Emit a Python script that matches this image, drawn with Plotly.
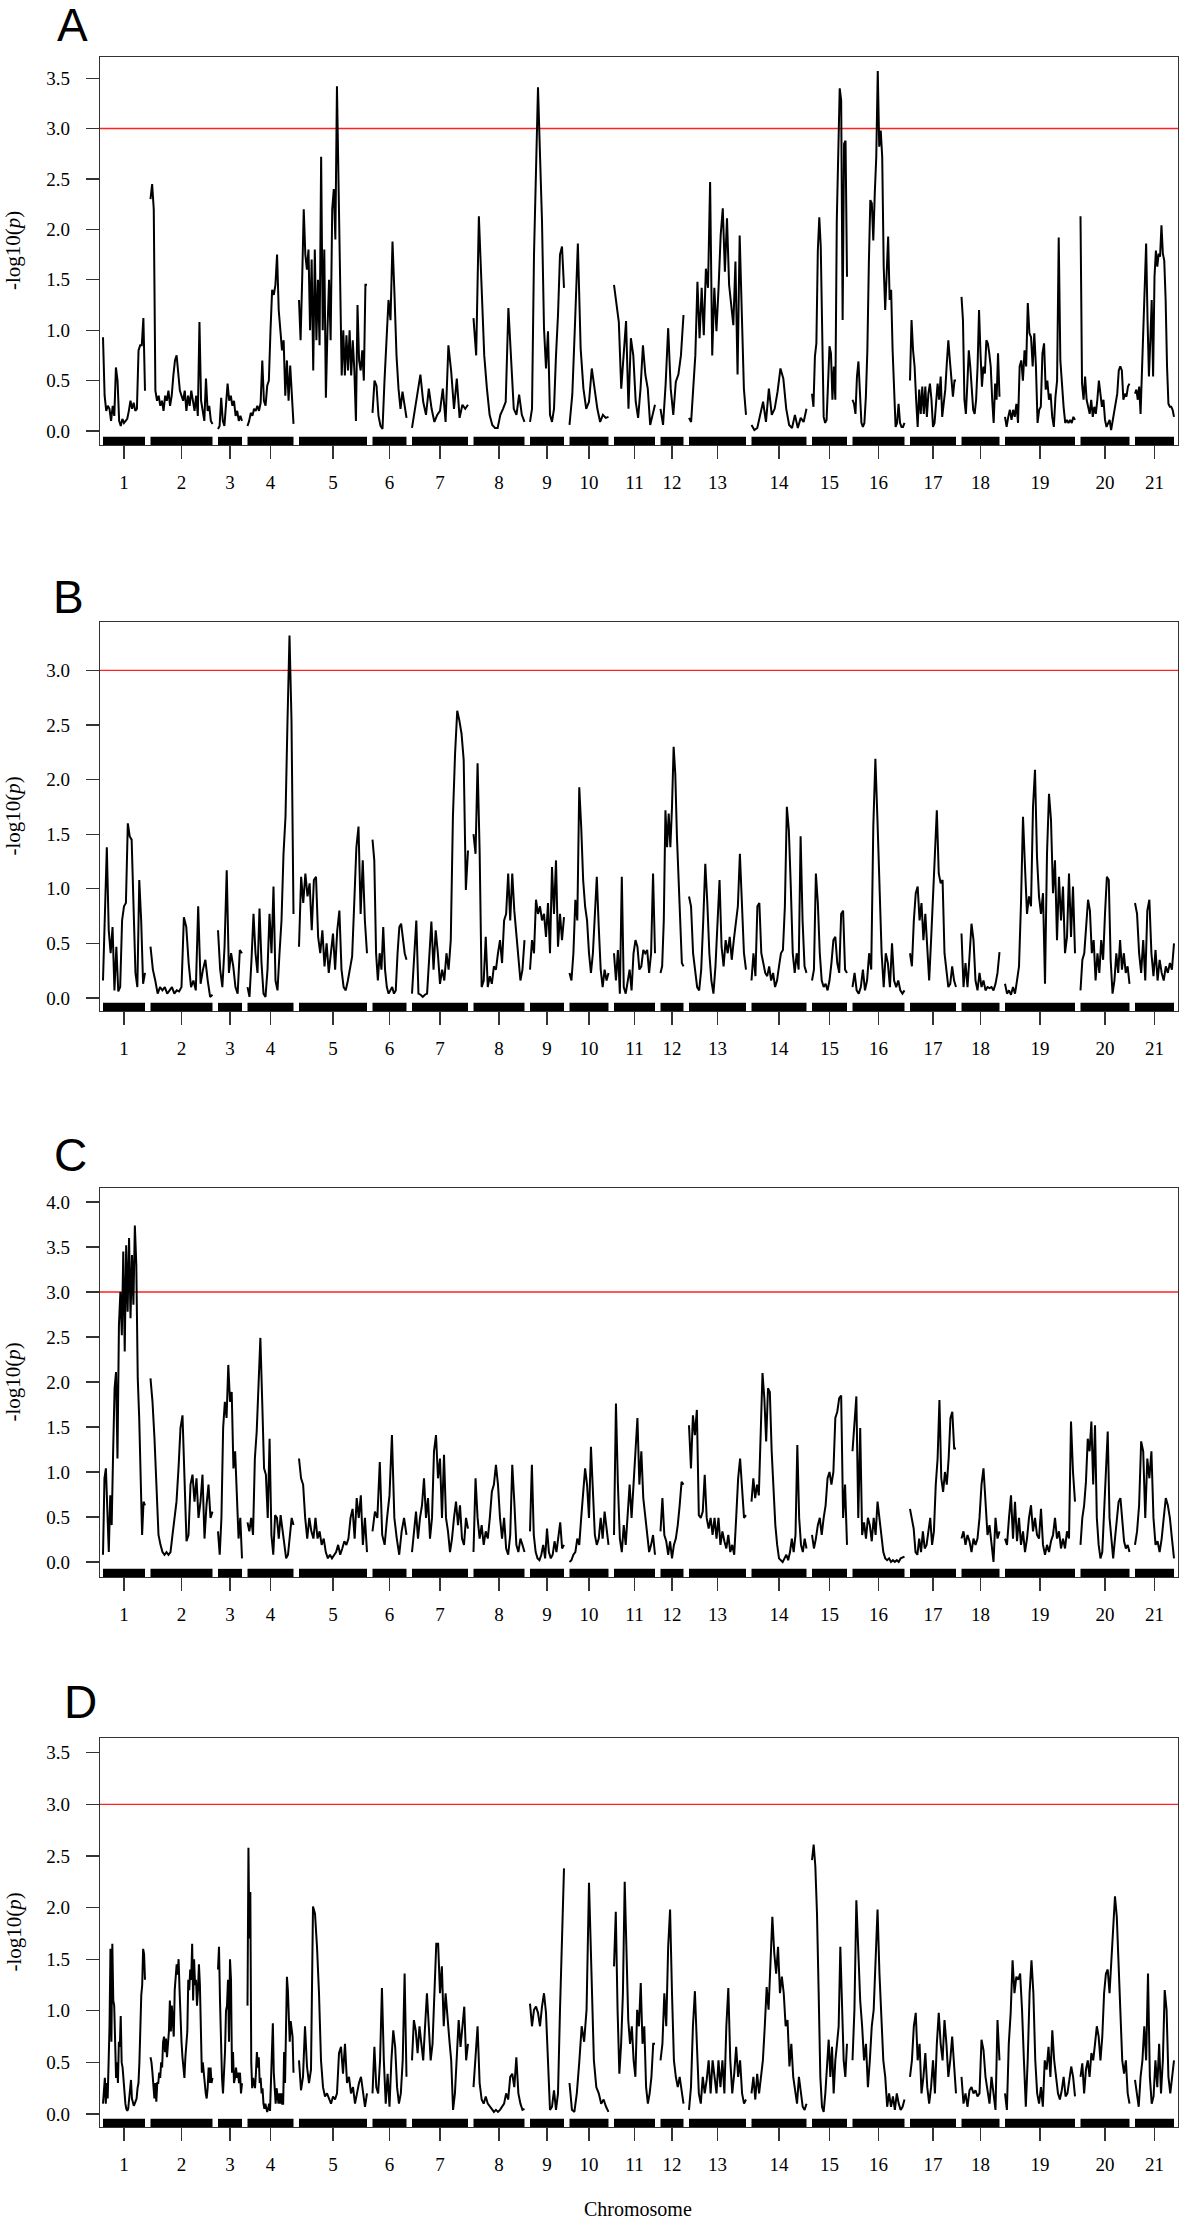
import plotly.graph_objects as go

# ---------------- data ----------------
chrom_names = [str(i) for i in range(1, 22)]
chrom_len = [42, 62, 24, 46, 68, 34, 56, 51, 34, 39, 41, 23, 57, 55, 35, 52, 46, 38, 70, 49, 39]
threshold = 3.0
panel_labels = ["A", "B", "C", "D"]

lod_A = [
    [0.93, 0.35, 0.2, 0.25, 0.22, 0.1, 0.25, 0.15, 0.63, 0.5, 0.1, 0.05, 0.12, 0.08, 0.1, 0.12, 0.2, 0.3, 0.22, 0.28, 0.2, 0.22, 0.8, 0.85, 0.85, 1.12, 0.4],
    [2.3, 2.45, 2.2, 0.4, 0.3, 0.35, 0.25, 0.3, 0.2, 0.35, 0.3, 0.4, 0.25, 0.35, 0.55, 0.7, 0.75, 0.6, 0.4, 0.35, 0.3, 0.4, 0.2, 0.35, 0.25, 0.4, 0.3, 0.2, 0.35, 0.15, 1.08, 0.3, 0.2, 0.1, 0.52, 0.2, 0.25, 0.1, 0.07],
    [0.02, 0.05, 0.33, 0.1, 0.05, 0.25, 0.47, 0.3, 0.35, 0.25, 0.3, 0.15, 0.2, 0.1, 0.15, 0.1],
    [0.05, 0.1, 0.18, 0.15, 0.22, 0.2, 0.25, 0.2, 0.28, 0.7, 0.3, 0.25, 0.45, 0.5, 1.0, 1.4, 1.35, 1.45, 1.75, 1.2, 1.0, 0.8, 0.9, 0.35, 0.7, 0.3, 0.65, 0.3, 0.07],
    [1.3, 0.9, 1.5, 2.2, 1.75, 1.6, 1.8, 1.0, 1.7, 0.6, 1.8, 0.9, 1.5, 0.85, 2.72, 1.0, 1.8, 0.33, 1.0, 1.5, 0.9, 2.2, 2.4, 1.9, 3.42, 2.3, 1.6, 0.55, 1.0, 0.55, 0.95, 0.6, 1.0, 0.55, 0.9, 0.6, 0.1, 1.25, 0.7, 0.6, 0.8, 0.5, 1.45, 1.45],
    [0.18, 0.5, 0.45, 0.15, 0.05, 0.02, 0.5, 0.85, 1.3, 1.1, 1.88, 1.35, 0.75, 0.42, 0.22, 0.39, 0.26, 0.13],
    [0.03, 0.22, 0.42, 0.56, 0.29, 0.16, 0.42, 0.22, 0.09, 0.16, 0.2, 0.42, 0.09, 0.85, 0.59, 0.22, 0.52, 0.13, 0.26, 0.22, 0.26],
    [1.12, 0.75, 2.13, 1.38, 0.75, 0.42, 0.16, 0.06, 0.03, 0.03, 0.16, 0.22, 0.29, 1.22, 0.75, 0.22, 0.16, 0.36, 0.16, 0.09],
    [0.09, 0.22, 1.75, 2.67, 3.41, 2.74, 2.08, 1.02, 0.62, 0.99, 0.16, 0.09, 0.22, 0.75, 1.15, 1.75, 1.83, 1.42],
    [0.06, 0.36, 1.08, 1.86, 0.82, 0.42, 0.22, 0.29, 0.62, 0.42, 0.22, 0.09, 0.16, 0.13, 0.14],
    [1.45, 1.28, 1.08, 0.42, 0.75, 1.09, 0.22, 0.92, 0.75, 0.29, 0.13, 0.42, 0.85, 0.56, 0.42, 0.06, 0.16, 0.26],
    [0.22, 0.06, 0.46, 1.02, 0.42, 0.16, 0.49, 0.56, 0.75, 1.15],
    [0.13, 0.09, 0.42, 0.75, 1.48, 0.92, 1.42, 0.95, 1.61, 1.42, 2.47, 0.75, 1.42, 0.99, 1.42, 1.94, 2.21, 1.58, 2.11, 1.45, 1.25, 1.05, 1.68, 0.56, 1.94, 1.02, 0.42, 0.16],
    [0.06, 0.01, 0.03, 0.16, 0.29, 0.09, 0.42, 0.16, 0.22, 0.39, 0.62, 0.52, 0.22, 0.06, 0.03, 0.16, 0.03, 0.13, 0.09, 0.22],
    [0.37, 0.24, 0.74, 0.87, 1.79, 2.12, 1.83, 0.97, 0.14, 0.08, 0.11, 0.47, 0.84, 0.77, 0.31, 0.64, 0.31, 2.09, 2.72, 3.4, 3.28, 1.1, 2.85, 2.88, 1.53],
    [0.31, 0.27, 0.17, 0.54, 0.69, 0.34, 0.08, 0.04, 0.08, 0.34, 0.8, 1.66, 2.29, 2.26, 1.89, 2.36, 2.72, 3.57, 2.82, 2.98, 2.72, 1.63, 1.2, 1.56, 1.93, 1.3, 1.4, 0.8, 0.31, 0.04, 0.08, 0.27, 0.08, 0.04, 0.04, 0.08],
    [0.5, 1.1, 0.8, 0.64, 0.31, 0.04, 0.41, 0.17, 0.44, 0.17, 0.44, 0.14, 0.37, 0.47, 0.31, 0.04, 0.08, 0.27, 0.47, 0.31, 0.54, 0.14, 0.31, 0.41, 0.67, 0.9, 0.7, 0.54, 0.34, 0.5, 0.5],
    [1.33, 1.1, 0.31, 0.17, 0.47, 0.8, 0.64, 0.37, 0.21, 0.17, 0.31, 0.64, 1.2, 0.77, 0.44, 0.64, 0.57, 0.9, 0.87, 0.77, 0.64, 0.31, 0.08, 0.47, 0.31, 0.77, 0.34],
    [0.14, 0.04, 0.14, 0.21, 0.11, 0.21, 0.14, 0.27, 0.08, 0.64, 0.7, 0.5, 0.8, 0.64, 1.27, 0.97, 0.93, 0.64, 0.97, 0.64, 0.08, 0.21, 0.24, 0.77, 0.87, 0.41, 0.5, 0.31, 0.37, 0.14, 0.04, 0.34, 0.5, 1.92, 0.7, 0.41, 0.24, 0.08, 0.11, 0.08, 0.11, 0.08, 0.14, 0.11],
    [2.13, 0.47, 0.31, 0.54, 0.31, 0.24, 0.17, 0.31, 0.14, 0.24, 0.17, 0.31, 0.5, 0.37, 0.24, 0.31, 0.11, 0.04, 0.08, 0.11, 0.01, 0.11, 0.21, 0.31, 0.37, 0.6, 0.64, 0.6, 0.31, 0.37, 0.34, 0.44, 0.47],
    [0.37, 0.41, 0.31, 0.44, 0.17, 0.64, 0.97, 1.46, 1.86, 1.1, 0.54, 0.9, 1.3, 0.54, 1.53, 1.79, 1.63, 1.76, 1.73, 2.04, 1.76, 1.69, 1.3, 0.64, 0.27, 0.24, 0.24, 0.21, 0.14],
]

lod_B = [
    [0.16, 0.71, 1.38, 0.62, 0.41, 0.65, 0.07, 0.47, 0.06, 0.1, 0.71, 0.84, 0.87, 1.6, 1.48, 1.45, 0.71, 0.23, 0.1, 1.08, 0.71, 0.13, 0.23],
    [0.47, 0.26, 0.16, 0.04, 0.1, 0.07, 0.1, 0.04, 0.07, 0.1, 0.04, 0.07, 0.06, 0.1, 0.74, 0.65, 0.32, 0.1, 0.16, 0.07, 0.84, 0.13, 0.26, 0.35, 0.16, 0.01, 0.03],
    [0.62, 0.26, 0.1, 0.47, 1.17, 0.23, 0.41, 0.29, 0.1, 0.04, 0.44, 0.41],
    [0.1, 0.01, 0.35, 0.77, 0.41, 0.23, 0.82, 0.32, 0.04, 0.01, 0.26, 0.77, 0.41, 1.02, 0.16, 0.07, 0.41, 0.71, 1.32, 1.66, 2.54, 3.32, 2.54, 0.77],
    [0.47, 1.11, 0.87, 1.14, 0.93, 1.05, 0.62, 1.08, 1.11, 0.56, 0.41, 0.62, 0.29, 0.5, 0.23, 0.44, 0.59, 0.26, 0.62, 0.8, 0.26, 0.1, 0.07, 0.16, 0.26, 0.38, 0.87, 1.38, 1.57, 0.77, 1.26, 0.71, 0.41],
    [1.45, 1.26, 0.41, 0.16, 0.41, 0.26, 0.65, 0.26, 0.1, 0.04, 0.07, 0.1, 0.04, 0.07, 0.41, 0.65, 0.68, 0.53, 0.41, 0.35],
    [0.04, 0.41, 0.71, 0.04, 0.03, 0.01, 0.03, 0.04, 0.41, 0.7, 0.26, 0.62, 0.41, 0.13, 0.26, 0.16, 0.41, 0.26, 0.53, 1.66, 2.24, 2.63, 2.54, 2.42, 2.18, 0.99, 1.35],
    [1.5, 1.32, 2.15, 1.35, 0.1, 0.16, 0.56, 0.1, 0.2, 0.13, 0.29, 0.26, 0.41, 0.53, 0.32, 0.71, 0.77, 1.14, 0.71, 1.14, 0.8, 0.59, 0.41, 0.16, 0.26, 0.53],
    [0.26, 0.53, 0.41, 0.9, 0.77, 0.84, 0.71, 0.77, 0.56, 0.87, 0.41, 1.2, 0.77, 1.26, 0.47, 0.77, 0.53, 0.74],
    [0.23, 0.16, 0.41, 0.9, 0.71, 1.93, 1.57, 1.08, 0.84, 0.71, 0.41, 0.23, 0.41, 0.84, 1.11, 0.65, 0.26, 0.1, 0.26, 0.16, 0.23],
    [0.41, 0.16, 0.44, 0.04, 1.11, 0.1, 0.04, 0.16, 0.26, 0.07, 0.41, 0.53, 0.47, 0.26, 0.29, 0.44, 0.41, 0.44, 0.23, 0.41, 1.14, 0.41],
    [0.23, 0.29, 0.71, 1.72, 1.38, 1.69, 1.38, 1.75, 2.3, 2.05, 1.48, 1.05, 0.65, 0.32, 0.29],
    [0.93, 0.84, 0.41, 0.23, 0.1, 0.07, 0.26, 0.71, 1.23, 0.87, 0.41, 0.16, 0.04, 0.29, 0.71, 1.08, 0.47, 0.29, 0.53, 0.41, 0.56, 0.35, 0.53, 0.71, 0.84, 1.32, 0.93, 0.41, 0.26],
    [0.16, 0.41, 0.2, 0.84, 0.87, 0.41, 0.32, 0.23, 0.2, 0.29, 0.16, 0.23, 0.1, 0.16, 0.29, 0.41, 0.44, 0.84, 1.75, 1.54, 1.02, 0.41, 0.23, 0.41, 0.26, 1.48, 0.71, 0.29, 0.23],
    [0.16, 0.26, 1.14, 0.87, 0.41, 0.16, 0.1, 0.13, 0.07, 0.16, 0.32, 0.53, 0.56, 0.32, 0.23, 0.77, 0.8, 0.26, 0.23],
    [0.1, 0.23, 0.07, 0.04, 0.1, 0.26, 0.07, 0.16, 0.41, 0.26, 1.57, 2.19, 1.63, 1.02, 0.41, 0.1, 0.41, 0.32, 0.1, 0.5, 0.16, 0.1, 0.16, 0.07, 0.04, 0.07],
    [0.41, 0.29, 0.71, 0.96, 1.02, 0.71, 0.87, 0.53, 0.77, 0.41, 0.16, 0.53, 1.02, 1.32, 1.72, 1.14, 1.05, 1.08, 0.41, 0.23, 0.1, 0.13, 0.29, 0.16, 0.1],
    [0.59, 0.1, 0.32, 0.1, 0.38, 0.68, 0.53, 0.16, 0.07, 0.23, 0.1, 0.16, 0.07, 0.1, 0.09, 0.1, 0.07, 0.13, 0.23, 0.42],
    [0.13, 0.04, 0.07, 0.03, 0.1, 0.04, 0.16, 0.29, 0.87, 1.66, 1.2, 0.77, 0.93, 0.84, 1.75, 2.09, 1.29, 0.93, 0.77, 0.96, 0.13, 1.32, 1.87, 1.63, 0.96, 1.26, 0.53, 1.11, 0.71, 1.02, 0.41, 0.56, 1.14, 0.56, 1.02, 0.41],
    [0.07, 0.35, 0.41, 0.71, 0.9, 0.8, 0.41, 0.53, 0.16, 0.41, 0.23, 0.53, 0.35, 0.77, 1.11, 1.08, 0.35, 0.04, 0.16, 0.41, 0.23, 0.53, 0.26, 0.41, 0.23, 0.29, 0.13],
    [0.87, 0.77, 0.41, 0.23, 0.53, 0.16, 0.8, 0.9, 0.41, 0.2, 0.44, 0.16, 0.35, 0.23, 0.16, 0.29, 0.23, 0.32, 0.26, 0.5],
]

lod_C = [
    [0.08, 0.93, 1.04, 0.49, 0.11, 0.74, 0.41, 1.23, 1.93, 2.11, 1.15, 2.63, 3.0, 2.52, 3.45, 2.34, 3.52, 2.78, 3.6, 2.71, 3.41, 2.86, 3.74, 3.3, 2.04, 1.6, 0.74, 0.3, 0.67, 0.63],
    [2.04, 1.78, 1.37, 0.86, 0.3, 0.19, 0.11, 0.08, 0.11, 0.08, 0.11, 0.3, 0.49, 0.67, 1.04, 1.49, 1.63, 0.86, 0.23, 0.3, 0.86, 0.97, 0.67, 0.93, 0.49, 0.67, 0.97, 0.26, 0.63, 0.86, 0.49, 0.56],
    [0.34, 0.08, 0.49, 1.49, 1.78, 1.6, 2.19, 1.78, 1.89, 1.04, 1.23, 0.71, 0.26, 0.49, 0.04],
    [0.44, 0.34, 0.49, 0.3, 1.15, 1.45, 1.97, 2.49, 1.78, 1.04, 0.97, 0.49, 1.37, 0.3, 0.08, 0.52, 0.49, 0.26, 0.52, 0.34, 0.19, 0.04, 0.08, 0.3, 0.49, 0.41],
    [1.15, 0.93, 0.86, 0.49, 0.26, 0.49, 0.34, 0.26, 0.49, 0.26, 0.34, 0.19, 0.26, 0.11, 0.04, 0.08, 0.04, 0.08, 0.11, 0.19, 0.08, 0.15, 0.23, 0.19, 0.26, 0.49, 0.59, 0.26, 0.71, 0.49, 0.74, 0.19, 0.49, 0.11],
    [0.34, 0.56, 0.49, 1.11, 0.3, 0.19, 0.49, 0.74, 1.41, 0.49, 0.26, 0.08, 0.34, 0.49, 0.3],
    [0.11, 0.34, 0.56, 0.26, 0.49, 0.63, 0.93, 0.49, 0.71, 0.26, 0.49, 1.23, 1.41, 0.93, 1.15, 0.49, 1.19, 0.49, 0.34, 0.11, 0.26, 0.49, 0.67, 0.41, 0.63, 0.26, 0.19, 0.49, 0.37],
    [0.11, 0.93, 0.49, 0.26, 0.41, 0.19, 0.34, 0.26, 0.49, 0.78, 0.86, 1.08, 0.86, 0.49, 0.26, 0.49, 0.15, 0.08, 0.3, 1.08, 0.67, 0.19, 0.11, 0.26, 0.19, 0.11],
    [0.34, 1.08, 0.3, 0.11, 0.04, 0.02, 0.08, 0.19, 0.04, 0.37, 0.11, 0.04, 0.08, 0.23, 0.11, 0.26, 0.44, 0.15, 0.19],
    [0.0, 0.02, 0.08, 0.11, 0.26, 0.19, 0.49, 0.74, 1.04, 0.86, 0.49, 1.28, 0.86, 0.3, 0.19, 0.26, 0.49, 0.26, 0.56, 0.34, 0.19],
    [0.3, 1.76, 0.86, 0.26, 0.11, 0.41, 0.19, 0.49, 0.86, 0.49, 0.89, 1.15, 1.6, 0.86, 1.23, 0.71, 0.49, 0.3, 0.11, 0.19, 0.3, 0.08],
    [0.34, 0.71, 0.3, 0.23, 0.08, 0.23, 0.04, 0.19, 0.26, 0.41, 0.63, 0.89, 0.86],
    [1.52, 1.04, 1.63, 1.41, 1.69, 0.52, 0.49, 0.56, 0.97, 0.49, 0.37, 0.49, 0.3, 0.49, 0.26, 0.49, 0.19, 0.34, 0.23, 0.15, 0.3, 0.11, 0.19, 0.08, 0.49, 0.93, 1.15, 0.78, 0.49, 0.52],
    [0.67, 0.93, 0.71, 0.86, 0.74, 1.37, 2.1, 1.82, 1.34, 1.93, 1.89, 1.23, 0.86, 0.41, 0.19, 0.04, 0.02, 0.0, 0.04, 0.08, 0.02, 0.11, 0.26, 0.11, 0.3, 1.3, 0.49, 0.19, 0.11, 0.26, 0.15],
    [0.3, 0.15, 0.26, 0.41, 0.49, 0.3, 0.49, 0.63, 0.93, 1.0, 0.86, 1.0, 1.6, 1.67, 1.82, 1.85, 0.49, 0.86, 0.19],
    [1.23, 1.6, 1.84, 0.49, 1.49, 0.3, 0.44, 0.26, 0.49, 0.41, 0.23, 0.49, 0.3, 0.67, 0.49, 0.26, 0.11, 0.04, 0.02, 0.04, 0.0, 0.02, 0.0, 0.02, 0.0, 0.04, 0.05, 0.06],
    [0.59, 0.49, 0.37, 0.11, 0.08, 0.26, 0.11, 0.34, 0.15, 0.19, 0.34, 0.49, 0.19, 0.34, 0.86, 1.15, 1.8, 0.93, 0.78, 1.0, 0.86, 1.15, 1.6, 1.67, 1.26, 1.26],
    [0.26, 0.34, 0.19, 0.3, 0.23, 0.11, 0.26, 0.19, 0.26, 0.49, 0.86, 1.04, 0.67, 0.3, 0.41, 0.19, 0.0, 0.49, 0.26, 0.34],
    [0.26, 0.19, 0.49, 0.74, 0.26, 0.67, 0.23, 0.49, 0.19, 0.34, 0.11, 0.26, 0.49, 0.63, 0.34, 0.49, 0.3, 0.26, 0.59, 0.19, 0.08, 0.19, 0.11, 0.23, 0.3, 0.49, 0.26, 0.34, 0.15, 0.26, 0.15, 0.34, 0.26, 1.56, 1.0, 0.67],
    [0.19, 0.49, 0.63, 0.89, 1.37, 1.23, 1.56, 0.86, 1.52, 0.49, 0.19, 0.04, 0.11, 0.56, 1.15, 1.45, 0.49, 0.23, 0.04, 0.26, 0.49, 0.67, 0.71, 0.49, 0.23, 0.15, 0.19, 0.11],
    [0.19, 0.34, 0.63, 1.34, 1.23, 0.49, 1.15, 0.93, 1.23, 0.49, 0.19, 0.23, 0.11, 0.26, 0.49, 0.71, 0.63, 0.49, 0.26, 0.04],
]

lod_D = [
    [0.1, 0.3, 0.35, 0.1, 0.3, 0.15, 0.5, 0.85, 1.6, 0.7, 1.65, 1.1, 1.05, 0.7, 0.35, 0.5, 0.3, 0.7, 0.65, 0.95, 0.5, 0.45, 0.3, 0.2, 0.1, 0.05, 0.03, 0.05, 0.15, 0.2, 0.33, 0.15, 0.1, 0.08, 0.1, 0.12, 0.15, 0.25, 0.3, 0.5, 0.9, 1.15, 1.25, 1.6, 1.55, 1.3],
    [0.55, 0.5, 0.4, 0.2, 0.15, 0.3, 0.12, 0.3, 0.3, 0.4, 0.35, 0.5, 0.45, 0.7, 0.75, 0.6, 0.73, 0.55, 0.68, 0.8, 1.1, 0.8, 1.05, 0.9, 0.75, 1.2, 1.3, 1.45, 1.35, 1.5, 1.2, 0.9, 0.7, 0.55, 0.4, 0.35, 0.55, 0.7, 0.8, 1.3, 1.2, 1.4, 1.3, 1.65, 1.1, 1.5, 1.25, 1.3, 1.05, 1.2, 1.45, 1.25, 0.6, 0.4, 0.5, 0.35, 0.3, 0.2, 0.15, 0.25, 0.45, 0.3, 0.45, 0.3, 0.35],
    [1.4, 1.62, 1.1, 0.6, 0.35, 0.2, 0.4, 0.6, 1.0, 1.05, 1.3, 0.7, 1.5, 1.3, 0.4, 0.6, 0.3, 0.35, 0.45, 0.35, 0.4, 0.3, 0.4, 0.2, 0.3],
    [1.05, 2.58, 1.7, 2.15, 0.5, 0.25, 0.35, 0.3, 0.25, 0.4, 0.6, 0.45, 0.55, 0.3, 0.35, 0.2, 0.25, 0.1, 0.05, 0.1, 0.05, 0.02, 0.05, 0.1, 0.03, 0.3, 0.6, 0.88, 0.4, 0.2, 0.1, 0.25, 0.15, 0.1, 0.2, 0.1, 0.2, 0.1, 0.1, 0.6, 0.3, 0.75, 1.33, 1.2, 1.0, 0.7, 0.9, 0.8, 0.75, 0.4],
    [0.52, 0.23, 0.36, 0.85, 0.46, 0.3, 0.43, 2.01, 1.94, 1.62, 1.17, 0.52, 0.26, 0.17, 0.2, 0.14, 0.1, 0.17, 0.14, 0.2, 0.59, 0.65, 0.39, 0.68, 0.3, 0.36, 0.2, 0.26, 0.1, 0.2, 0.3, 0.36, 0.23, 0.07, 0.2],
    [0.2, 0.65, 0.26, 0.2, 0.52, 1.22, 0.52, 0.1, 0.39, 0.07, 0.52, 0.81, 0.65, 0.26, 0.1, 0.2, 0.52, 1.36, 0.36],
    [0.52, 0.91, 0.81, 0.59, 0.85, 0.68, 0.52, 0.85, 1.17, 0.85, 0.52, 0.68, 1.23, 1.65, 1.65, 1.17, 1.43, 0.85, 1.17, 0.98, 0.72, 0.52, 0.04, 0.2, 0.52, 0.91, 0.65, 0.85, 1.04, 0.52, 0.68],
    [0.26, 0.52, 0.85, 0.3, 0.14, 0.1, 0.17, 0.1, 0.07, 0.04, 0.02, 0.04, 0.02, 0.04, 0.07, 0.1, 0.2, 0.14, 0.36, 0.39, 0.26, 0.55, 0.2, 0.1, 0.04, 0.05],
    [1.07, 0.85, 1.01, 1.04, 0.98, 0.85, 1.04, 1.17, 0.98, 0.52, 0.04, 0.07, 0.23, 0.04, 0.2, 1.01, 1.82, 2.38],
    [0.3, 0.04, 0.02, 0.2, 0.5, 0.85, 0.7, 1.01, 2.24, 1.49, 0.52, 0.26, 0.2, 0.1, 0.14, 0.07, 0.02],
    [1.43, 1.96, 1.01, 0.39, 0.68, 1.17, 2.25, 1.49, 0.91, 0.68, 0.85, 0.52, 0.36, 1.01, 0.85, 1.27, 0.68, 0.85, 0.26, 0.1, 0.2, 0.36, 0.68, 0.68],
    [0.52, 0.68, 1.17, 0.85, 1.62, 1.98, 1.17, 0.52, 0.36, 0.26, 0.36, 0.2, 0.1],
    [0.04, 0.26, 0.85, 1.19, 0.68, 0.2, 0.1, 0.36, 0.2, 0.33, 0.52, 0.2, 0.52, 0.36, 0.2, 0.52, 0.26, 0.52, 0.2, 0.85, 1.22, 0.52, 0.2, 0.39, 0.65, 0.36, 0.52, 0.2, 0.1, 0.14],
    [0.2, 0.36, 0.14, 0.39, 0.2, 0.36, 0.52, 0.85, 1.23, 1.01, 1.49, 1.91, 1.56, 1.36, 1.62, 1.17, 1.33, 1.17, 0.85, 0.91, 0.46, 0.68, 0.36, 0.2, 0.1, 0.36, 0.2, 0.07, 0.04, 0.1],
    [2.46, 2.61, 2.4, 1.94, 1.17, 0.36, 0.07, 0.02, 0.2, 0.52, 0.72, 0.36, 0.65, 0.2, 0.52, 0.68, 0.85, 1.62, 1.17, 0.52, 0.36, 0.68],
    [0.52, 1.01, 2.07, 1.49, 1.1, 0.85, 0.52, 0.68, 0.26, 0.52, 0.85, 1.01, 1.49, 1.98, 1.36, 0.85, 0.52, 0.36, 0.07, 0.2, 0.07, 0.17, 0.04, 0.2, 0.1, 0.04, 0.07, 0.14],
    [0.36, 0.52, 0.85, 0.98, 0.52, 0.68, 0.2, 0.36, 0.59, 0.26, 0.1, 0.26, 0.52, 0.2, 0.68, 0.98, 0.68, 0.52, 0.91, 0.68, 0.36, 0.52, 0.75, 0.46, 0.2],
    [0.36, 0.1, 0.2, 0.07, 0.23, 0.26, 0.2, 0.23, 0.17, 0.2, 0.72, 0.62, 0.36, 0.2, 0.1, 0.36, 0.2, 0.04, 0.91, 0.52],
    [0.2, 0.04, 0.68, 0.98, 1.49, 1.17, 1.33, 1.3, 1.36, 1.01, 0.52, 0.07, 0.52, 1.17, 1.49, 1.17, 0.52, 0.2, 0.1, 0.26, 0.07, 0.52, 0.43, 0.65, 0.36, 0.81, 0.52, 0.36, 0.2, 0.14, 0.23, 0.36, 0.17, 0.2, 0.36, 0.46, 0.36, 0.17],
    [0.36, 0.49, 0.2, 0.43, 0.52, 0.36, 0.59, 0.52, 0.68, 0.85, 0.75, 0.52, 0.75, 1.17, 1.36, 1.4, 1.17, 1.49, 1.72, 2.11, 1.91, 1.33, 0.98, 0.52, 0.39, 0.52, 0.2, 0.1],
    [0.33, 0.17, 0.07, 0.36, 0.52, 0.85, 0.52, 1.36, 0.36, 0.1, 0.17, 0.52, 0.26, 0.68, 0.2, 0.52, 1.2, 1.01, 0.36, 0.2, 0.36, 0.52],
]

panel_series = [lod_A, lod_B, lod_C, lod_D]

# ---------------- layout constants ----------------
W, H = 1181, 2224
ML, MR = 100, 3
GAP = 5.5
SERIF = "Liberation Serif"
SANS = "Liberation Sans"
AX = "#333333"

box_px = [(57, 445), (622, 1011), (1188, 1577), (1738, 2127)]
y_ranges = [[-0.139, 3.710], [-0.119, 3.443], [-0.167, 4.156], [-0.126, 3.643]]
letter_px = [(72, 25), (68, 597), (70, 1155), (80, 1702)]

starts = []
p = 0.0
for L in chrom_len:
    starts.append(p)
    p += L + GAP
end_pos = starts[-1] + chrom_len[-1]
mids = [s + L / 2.0 for s, L in zip(starts, chrom_len)]
x_range = [-3, end_pos + 4]

fig = go.Figure()
shapes = []
annotations = []
plot_w = W - ML - MR

for k, lod in enumerate(panel_series):
    sfx = "" if k == 0 else str(k + 1)
    xs, ys = [], []
    for s, L, vals in zip(starts, chrom_len, lod):
        n = len(vals)
        for i, v in enumerate(vals):
            xs.append(s + L * i / (n - 1))
            ys.append(v)
        xs.append(None)
        ys.append(None)
    fig.add_trace(go.Scatter(
        x=xs, y=ys, mode="lines", line=dict(color="black", width=2.0),
        xaxis="x" + sfx, yaxis="y" + sfx, hoverinfo="skip", showlegend=False,
        connectgaps=False,
    ))

    top, bot = box_px[k]
    dom = [1 - bot / H, 1 - top / H]
    xa = dict(
        domain=[0, 1], range=x_range, showgrid=False, zeroline=False,
        showline=True, mirror=True, linecolor=AX, linewidth=1.3,
        ticks="outside", ticklen=13, tickwidth=1.2, tickcolor=AX,
        tickmode="array", tickvals=mids, ticktext=chrom_names,
        tickfont=dict(family=SERIF, size=19, color="black"),
        ticklabelstandoff=7, anchor="y" + sfx, fixedrange=True,
    )
    ya = dict(
        domain=dom, range=y_ranges[k], showgrid=False, zeroline=False,
        showline=True, mirror=True, linecolor=AX, linewidth=1.3,
        ticks="outside", ticklen=13, tickwidth=1.2, tickcolor=AX,
        tickmode="linear", tick0=0, dtick=0.5, tickformat=".1f",
        tickfont=dict(family=SERIF, size=19, color="black"),
        ticklabelstandoff=12, anchor="x" + sfx, fixedrange=True,
    )
    fig.layout["xaxis" + sfx] = xa
    fig.layout["yaxis" + sfx] = ya

    # threshold line
    shapes.append(dict(type="line", xref="x" + sfx + " domain", x0=0, x1=1,
                       yref="y" + sfx, y0=threshold, y1=threshold,
                       line=dict(color="#ff2020", width=1.4), layer="below"))
    # chromosome bars
    for s, L in zip(starts, chrom_len):
        shapes.append(dict(type="rect", xref="x" + sfx, x0=s, x1=s + L,
                           yref="y" + sfx + " domain", y0=0, y1=0.021,
                           fillcolor="black", line=dict(width=0), layer="above"))

    # panel letter
    lx, ly = letter_px[k]
    annotations.append(dict(text=panel_labels[k], xref="paper", yref="paper",
                            x=(lx - ML) / plot_w, y=1 - ly / H, xanchor="center",
                            yanchor="middle", showarrow=False,
                            font=dict(family=SANS, size=46, color="black")))
    # y-axis title
    annotations.append(dict(text="-log10(<i>p</i>)", xref="paper", yref="paper",
                            x=(13 - ML) / plot_w, y=(dom[0] + dom[1]) / 2,
                            xanchor="center", yanchor="middle", textangle=-90,
                            showarrow=False,
                            font=dict(family=SERIF, size=21, color="black")))

annotations.append(dict(text="Chromosome", xref="paper", yref="paper",
                        x=(638 - ML) / plot_w, y=0.001, xanchor="center",
                        yanchor="bottom", showarrow=False,
                        font=dict(family=SERIF, size=20, color="black")))

fig.update_layout(
    width=W, height=H, margin=dict(l=ML, r=MR, t=0, b=0, pad=0),
    paper_bgcolor="white", plot_bgcolor="white",
    shapes=shapes, annotations=annotations, showlegend=False,
)

fig.write_html(
    "out.html",
    config={"displayModeBar": False, "staticPlot": True},
    post_script="document.body.style.margin='0px';document.body.style.overflow='hidden';",
)
